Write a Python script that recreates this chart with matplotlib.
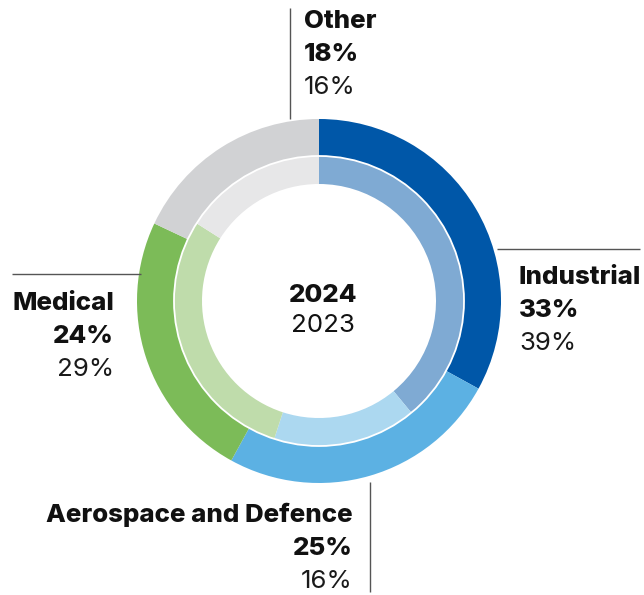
import matplotlib.pyplot as plt
from matplotlib.patches import Circle

plt.rcParams["font.family"] = ["Inter", "DejaVu Sans"]

# segment data, clockwise from 12 o'clock
segments = ["Industrial", "Aerospace and Defence", "Medical", "Other"]
share_2024 = [33, 25, 24, 18]
share_2023 = [39, 16, 29, 16]
colors_2024 = ["#0057a8", "#5cb1e3", "#7cbb58", "#d1d2d4"]
colors_2023 = ["#7faad3", "#acd8f0", "#bfdcab", "#e7e7e8"]

W, H = 644, 595
fig = plt.figure(figsize=(W / 100, H / 100), dpi=100)
ax = fig.add_axes([0, 0, 1, 1])

cx, cy = 319, H - 301
r_out, r_mid, r_in = 182, 145, 117

ax.pie(share_2024, radius=r_out, center=(cx, cy), startangle=90, counterclock=False,
       colors=colors_2024, wedgeprops=dict(width=r_out - r_mid, linewidth=0))
ax.pie(share_2023, radius=r_mid, center=(cx, cy), startangle=90, counterclock=False,
       colors=colors_2023, wedgeprops=dict(width=r_mid - r_in, linewidth=0))
ax.add_patch(Circle((cx, cy), r_mid, fill=False, edgecolor="white", linewidth=1.3))

ax.set_xlim(0, W)
ax.set_ylim(0, H)
ax.set_aspect("equal")
ax.axis("off")

line_kw = dict(color="#555555", linewidth=1.0, solid_capstyle="butt")
fs = 18.6
bold = "heavy"


def label(x, y, name, v24, v23, ha):
    ax.text(x, H - y, name, fontsize=fs, fontweight=bold, ha=ha, va="baseline", color="#111111")
    ax.text(x, H - y - 33, f"{v24}%", fontsize=fs, fontweight=bold, ha=ha, va="baseline", color="#111111")
    ax.text(x, H - y - 66, f"{v23}%", fontsize=fs, fontweight="normal", ha=ha, va="baseline", color="#1a1a1a")


# Other
ax.plot([290, 290], [H - 8, H - 119], **line_kw)
label(304, 28, segments[3], share_2024[3], share_2023[3], "left")
# Industrial
ax.plot([497, 640], [H - 249, H - 249], **line_kw)
label(519, 284, segments[0], share_2024[0], share_2023[0], "left")
# Medical
ax.plot([12, 141], [H - 274, H - 274], **line_kw)
label(114, 310, segments[2], share_2024[2], share_2023[2], "right")
# Aerospace and Defence
ax.plot([370, 370], [H - 482, H - 592], **line_kw)
label(353, 522, segments[1], share_2024[1], share_2023[1], "right")

# centre
ax.text(cx + 4, H - 302, "2024", fontsize=fs, fontweight=bold, ha="center", va="baseline", color="#111111")
ax.text(cx + 4, H - 332, "2023", fontsize=fs, fontweight="normal", ha="center", va="baseline", color="#111111")

fig.savefig("out.png", dpi=100)
